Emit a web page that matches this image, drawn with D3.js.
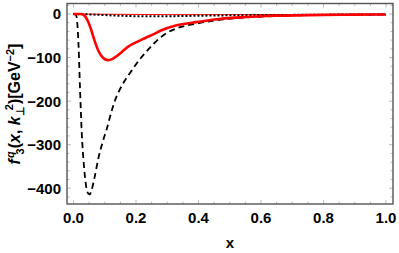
<!DOCTYPE html>
<html>
<head>
<meta charset="utf-8">
<script src="https://cdn.jsdelivr.net/npm/d3@7"></script>
<style>
  body { margin: 0; background: white; }
  text { font-family: "Liberation Sans", Arial, sans-serif; font-weight: bold; }
</style>
</head>
<body>
<script>
// values
var dashedX = [0, 0.008, 0.012, 0.016, 0.021, 0.026, 0.033, 0.041, 0.047, 0.052, 0.058, 0.066, 0.08, 0.095, 0.106, 0.12, 0.133, 0.145, 0.16, 0.186, 0.21, 0.23, 0.26, 0.28, 0.3, 0.33, 0.38, 0.45, 0.55, 0.65, 0.8, 0.9, 1.0];
var dashedY = [0, -2, -20, -70, -175, -267, -345, -398, -412, -414, -404, -380, -330, -290, -265, -228, -198, -178, -158, -130, -106, -89, -66, -53, -43, -33, -24, -15, -8, -4.5, -2, -1.5, -1];

var redX = [0, 0.025, 0.032, 0.04, 0.047, 0.055, 0.065, 0.08, 0.095, 0.11, 0.125, 0.14, 0.155, 0.175, 0.2, 0.23, 0.26, 0.28, 0.33, 0.4, 0.46, 0.55, 0.65, 0.8, 0.9, 1.0];
var redY = [0, 0, -2, -8, -18, -33, -56, -85, -101, -106, -103, -96, -87, -75, -65, -55, -45, -38, -26, -18, -12, -7, -4, -2, -1.5, -1];

var dottedX = [0, 0.03, 0.05, 0.1, 0.15, 0.2, 0.3, 0.4, 0.5, 0.6, 0.7, 0.8, 0.9, 1.0];
var dottedY = [0, -0.5, -1, -2.5, -4, -5, -5, -4, -3, -2.5, -2, -1.5, -1.2, -1];

var thinRedX = [0, 0.1, 0.2, 0.3, 0.5, 0.7, 1.0];
var thinRedY = [0, -0.5, -1, -1.5, -1.5, -1.2, -1];

var xTicks = [0, 0.2, 0.4, 0.6, 0.8, 1.0];
var yTicks = [0, -100, -200, -300, -400];

var width = 399, height = 253;
var frame = { left: 67, right: 393, top: 3.5, bottom: 204 };

var svg = d3.select("body").append("svg")
    .attr("width", width)
    .attr("height", height);

var x = d3.scaleLinear().domain([0, 1]).range([73.5, 386]);
var y = d3.scaleLinear().domain([0, -400]).range([14, 188.2]);

// minor/major ticks inside frame
var tickColor = "#aaa";
var xMinor = d3.range(-0.05, 1.06, 0.05).filter(function (d) { return x(d) > frame.left && x(d) < frame.right; });
var yMinor = d3.range(20, -440, -20).filter(function (d) { return y(d) > frame.top && y(d) < frame.bottom; });

xMinor.forEach(function (d) {
    var major = Math.abs(d * 5 - Math.round(d * 5)) < 1e-6;
    var len = major ? 4 : 2.5;
    svg.append("line").attr("x1", x(d)).attr("x2", x(d))
        .attr("y1", frame.bottom).attr("y2", frame.bottom - len)
        .attr("stroke", tickColor).attr("stroke-width", 0.8);
    svg.append("line").attr("x1", x(d)).attr("x2", x(d))
        .attr("y1", frame.top).attr("y2", frame.top + len)
        .attr("stroke", tickColor).attr("stroke-width", 0.8);
});
yMinor.forEach(function (d) {
    var major = d % 100 === 0;
    var len = major ? 4 : 2.5;
    svg.append("line").attr("y1", y(d)).attr("y2", y(d))
        .attr("x1", frame.left).attr("x2", frame.left + len)
        .attr("stroke", tickColor).attr("stroke-width", 0.8);
    svg.append("line").attr("y1", y(d)).attr("y2", y(d))
        .attr("x1", frame.right).attr("x2", frame.right - len)
        .attr("stroke", tickColor).attr("stroke-width", 0.8);
});

var line = d3.line()
    .x(function (d) { return x(d[0]); })
    .y(function (d) { return y(d[1]); })
    .curve(d3.curveMonotoneX);

function pairs(xs, ys) {
    return xs.map(function (v, i) { return [v, ys[i]]; });
}

var plot = svg.append("g");

plot.append("path")
    .datum(pairs(thinRedX, thinRedY))
    .attr("d", line)
    .attr("fill", "none")
    .attr("stroke", "red")
    .attr("stroke-width", 1);

plot.append("path")
    .datum(pairs(dottedX, dottedY))
    .attr("d", line)
    .attr("fill", "none")
    .attr("stroke", "black")
    .attr("stroke-width", 2)
    .attr("stroke-dasharray", "2,2");

plot.append("path")
    .datum(pairs(dashedX, dashedY))
    .attr("d", line)
    .attr("fill", "none")
    .attr("stroke", "black")
    .attr("stroke-width", 1.8)
    .attr("stroke-dasharray", "6,4");

plot.append("path")
    .datum(pairs(redX, redY))
    .attr("d", line)
    .attr("fill", "none")
    .attr("stroke", "red")
    .attr("stroke-width", 2.6);

// frame
svg.append("rect")
    .attr("x", frame.left)
    .attr("y", frame.top)
    .attr("width", frame.right - frame.left)
    .attr("height", frame.bottom - frame.top)
    .attr("fill", "none")
    .attr("stroke", "#555")
    .attr("stroke-width", 1.4);

// tick labels
svg.selectAll(".xlab").data(xTicks).enter().append("text")
    .attr("x", function (d) { return x(d); })
    .attr("y", 223)
    .attr("text-anchor", "middle")
    .style("font-size", "15px")
    .text(function (d) { return d3.format(".1f")(d); });

svg.selectAll(".ylab").data(yTicks).enter().append("text")
    .attr("x", 61)
    .attr("y", function (d) { return y(d) + 5.4; })
    .attr("text-anchor", "end")
    .style("font-size", "15px")
    .text(function (d) { return d === 0 ? "0" : "\u2212" + Math.abs(d); });

// x label
svg.append("text")
    .attr("x", 230)
    .attr("y", 248)
    .attr("text-anchor", "middle")
    .style("font-size", "15px")
    .text("x");

// y label
var yl = svg.append("text")
    .attr("transform", "translate(20,104) rotate(-90)")
    .attr("text-anchor", "middle")
    .style("font-size", "16px");
yl.append("tspan").style("font-style", "italic").text("f");
yl.append("tspan").style("font-style", "italic").style("font-size", "11px").attr("dx", 1).attr("dy", -6).text("q");
yl.append("tspan").style("font-size", "11px").attr("dx", -3).attr("dy", 10).text("3");
yl.append("tspan").attr("dy", -4).text("(");
yl.append("tspan").style("font-style", "italic").text("x");
yl.append("tspan").text(", ");
yl.append("tspan").style("font-style", "italic").text("k");
yl.append("tspan").style("font-size", "11px").attr("dy", 4).text("\u22a5");
yl.append("tspan").style("font-size", "11px").attr("dx", -4).attr("dy", -11).text("2");
yl.append("tspan").attr("dy", 7).text(")[GeV");
yl.append("tspan").style("font-size", "11px").attr("dy", -6).text("\u22122");
yl.append("tspan").attr("dy", 6).text("]");
</script>
</body>
</html>
